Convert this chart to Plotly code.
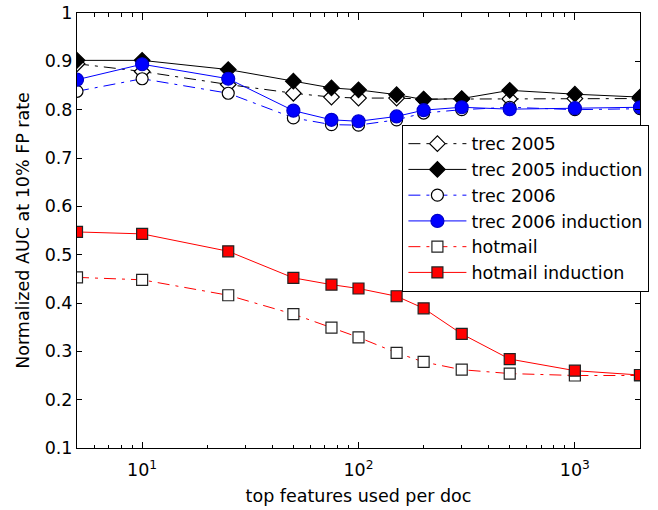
import plotly.graph_objects as go

features = [5, 10, 25, 50, 75, 100, 150, 200, 300, 500, 1000, 2000]

trec2005 = [0.895, 0.879, 0.852, 0.834, 0.826, 0.824, 0.824, 0.822, 0.822, 0.822, 0.823, 0.823]
trec2005_ind = [0.902, 0.902, 0.883, 0.859, 0.845, 0.841, 0.831, 0.821, 0.823, 0.840, 0.832, 0.826]
trec2006 = [0.838, 0.864, 0.834, 0.783, 0.769, 0.768, 0.779, 0.793, 0.800, 0.805, 0.800, 0.802]
trec2006_ind = [0.862, 0.894, 0.864, 0.798, 0.779, 0.776, 0.786, 0.799, 0.805, 0.801, 0.803, 0.805]
hotmail = [0.453, 0.448, 0.416, 0.377, 0.349, 0.329, 0.297, 0.278, 0.262, 0.254, 0.250, 0.250]
hotmail_ind = [0.547, 0.543, 0.507, 0.452, 0.438, 0.430, 0.414, 0.389, 0.336, 0.284, 0.260, 0.251]

y_ticks = [0.1, 0.2, 0.3, 0.4, 0.5, 0.6, 0.7, 0.8, 0.9, 1.0]
y_ticktext = ["0.1", "0.2", "0.3", "0.4", "0.5", "0.6", "0.7", "0.8", "0.9", "1"]
x_ticks = [10, 100, 1000]
x_ticktext = ["10<sup>1</sup>", "10<sup>2</sup>", "10<sup>3</sup>"]
x_minor = [6, 7, 8, 9, 20, 30, 40, 50, 60, 70, 80, 90,
           200, 300, 400, 500, 600, 700, 800, 900]

FONT = "DejaVu Sans, Liberation Sans, Arial, sans-serif"
FS = 17.5
DASH = "12px,6px,3px,6px"

series = [
    ("trec 2005", trec2005, "black", DASH, "diamond", "white", "black", 12),
    ("trec 2005 induction", trec2005_ind, "black", "solid", "diamond", "black", "black", 12),
    ("trec 2006", trec2006, "#0000ff", DASH, "circle", "white", "black", 12),
    ("trec 2006 induction", trec2006_ind, "#0000ff", "solid", "circle", "#0000ff", "#0000cc", 13),
    ("hotmail", hotmail, "#ff0000", DASH, "square", "white", "#222222", 11),
    ("hotmail induction", hotmail_ind, "#ff0000", "solid", "square", "#ff0000", "#222222", 11),
]

fig = go.Figure()
for i, (name, vals, col, dash, sym, fill, edge, size) in enumerate(series):
    fig.add_trace(go.Scatter(
        x=features, y=vals, name=name, mode="lines+markers",
        line=dict(color=col, width=1, dash=dash),
        marker=dict(symbol=sym, size=size, color=fill,
                    line=dict(color=edge, width=1.2)),
    ))

fig.update_layout(
    width=658, height=510,
    margin=dict(l=77, r=18, t=13, b=61.5, autoexpand=False),
    paper_bgcolor="white", plot_bgcolor="white",
    font=dict(family=FONT, size=FS, color="black"),
    showlegend=True,
    legend=dict(
        x=0.578, y=0.743, xanchor="left", yanchor="top",
        bgcolor="white", bordercolor="black", borderwidth=1,
        font=dict(family=FONT, size=FS, color="black"),
        itemwidth=58,
    ),
)

fig.update_xaxes(
    type="log", range=[0.69897, 3.30103], automargin=False,
    tickmode="array", tickvals=x_ticks, ticktext=x_ticktext,
    ticks="inside", ticklen=6.5, tickcolor="black", ticklabelstandoff=6,
    showline=True, linecolor="black", linewidth=1, mirror="ticks",
    showgrid=False, zeroline=False,
    minor=dict(tickmode="array", tickvals=x_minor, ticks="inside",
               ticklen=3.5, tickcolor="black"),
    title=dict(text="top features used per doc", standoff=10,
               font=dict(family=FONT, size=FS)),
    tickfont=dict(family=FONT, size=FS),
)
fig.update_yaxes(
    range=[0.1, 1.0], automargin=False,
    tickmode="array", tickvals=y_ticks, ticktext=y_ticktext,
    ticks="inside", ticklen=5, tickcolor="black",
    showline=True, linecolor="black", linewidth=1, mirror="ticks",
    showgrid=False, zeroline=False,
    title=dict(text="Normalized AUC at 10% FP rate", standoff=10,
               font=dict(family=FONT, size=FS)),
    tickfont=dict(family=FONT, size=FS),
)

fig.write_html("out.html")
